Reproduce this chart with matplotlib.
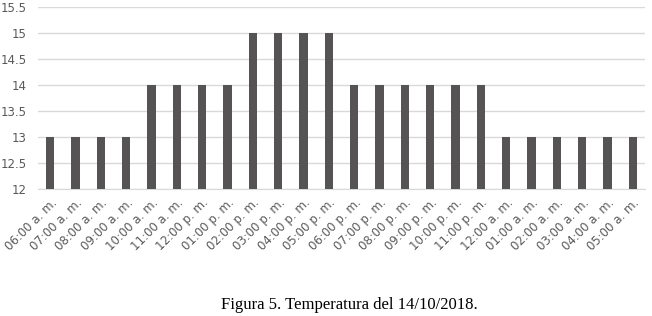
import matplotlib
matplotlib.use("Agg")
import matplotlib.pyplot as plt
import numpy as np

hours = ["06:00 a. m.", "07:00 a. m.", "08:00 a. m.", "09:00 a. m.", "10:00 a. m.",
         "11:00 a. m.", "12:00 p. m.", "01:00 p. m.", "02:00 p. m.", "03:00 p. m.",
         "04:00 p. m.", "05:00 p. m.", "06:00 p. m.", "07:00 p. m.", "08:00 p. m.",
         "09:00 p. m.", "10:00 p. m.", "11:00 p. m.", "12:00 a. m.", "01:00 a. m.",
         "02:00 a. m.", "03:00 a. m.", "04:00 a. m.", "05:00 a. m."]
temps = [13, 13, 13, 13, 14, 14, 14, 14, 15, 15, 15, 15,
         14, 14, 14, 14, 14, 14, 13, 13, 13, 13, 13, 13]
yticks = [12, 12.5, 13, 13.5, 14, 14.5, 15, 15.5]
caption = "Figura 5. Temperatura del 14/10/2018."

fig = plt.figure(figsize=(6.52, 3.16), dpi=100)
W, H = 652, 316
ax = fig.add_axes([37.5 / W, 1 - 189.3 / H, 608 / W, 182 / H])

x = np.arange(len(hours))
ax.bar(x, [t - 12 for t in temps], bottom=12, width=0.33, color="#555353", zorder=3)
ax.set_xlim(-0.5, len(hours) - 0.5)
ax.set_ylim(12, 15.5)
ax.set_yticks(yticks)
ax.set_yticklabels([("%g" % v) for v in yticks], color="#595959", fontsize=8.5)
ax.yaxis.grid(True, color="#d9d9d9", linewidth=1, zorder=0)
ax.tick_params(axis="y", length=0, pad=8)
ax.set_xticks(x)
ax.set_xticklabels(hours, rotation=45, ha="right", rotation_mode="anchor",
                   color="#595959", fontsize=8.5)
ax.tick_params(axis="x", length=0, pad=5)
for s in ["top", "right", "left"]:
    ax.spines[s].set_visible(False)
ax.spines["bottom"].set_color("#d9d9d9")

fig.text(349 / W, 1 - 305 / H, caption, ha="center", va="center",
         fontsize=12, family="Liberation Serif")

fig.savefig("out.png", dpi=100)
